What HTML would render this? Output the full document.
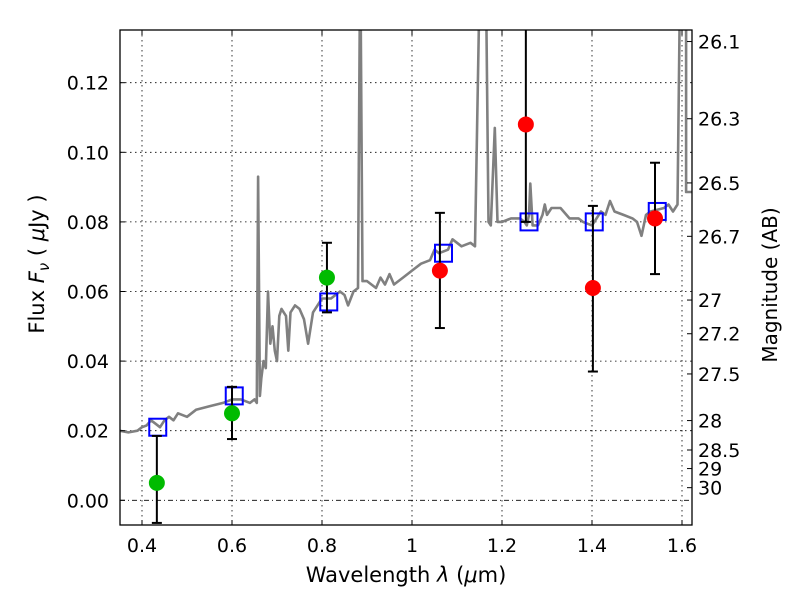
<!DOCTYPE html>
<html><head><meta charset="utf-8"><style>
html,body{margin:0;padding:0;background:#fff;overflow:hidden;width:800px;height:600px}
svg{display:block;font-family:"DejaVu Sans","Liberation Sans",sans-serif}
</style></head><body>
<svg id="chart" width="800" height="600"></svg>
<script>
const xTicks=[0.4,0.6,0.8,1.0,1.2,1.4,1.6];
const xTickLabels=["0.4","0.6","0.8","1","1.2","1.4","1.6"];
const yTicks=[0,0.02,0.04,0.06,0.08,0.10,0.12];
const yTickLabels=["0.00","0.02","0.04","0.06","0.08","0.10","0.12"];
const magTicks=[26.1,26.3,26.5,26.7,27,27.2,27.5,28,28.5,29,30];
const magLabels=["26.1","26.3","26.5","26.7","27","27.2","27.5","28","28.5","29","30"];
const specWave=[0.35,0.37,0.39,0.40,0.41,0.42,0.43,0.44,0.45,0.46,0.47,0.48,0.50,0.52,0.55,0.58,0.60,0.62,0.64,0.65,0.655,0.658,0.662,0.665,0.67,0.675,0.68,0.685,0.69,0.695,0.70,0.705,0.71,0.72,0.725,0.73,0.74,0.75,0.76,0.769,0.78,0.80,0.82,0.84,0.85,0.858,0.87,0.88,0.884,0.886,0.89,0.895,0.90,0.92,0.93,0.94,0.95,0.96,0.98,1.0,1.02,1.04,1.05,1.06,1.08,1.09,1.10,1.11,1.13,1.14,1.149,1.155,1.165,1.17,1.175,1.184,1.19,1.20,1.22,1.24,1.25,1.255,1.26,1.263,1.268,1.28,1.29,1.295,1.30,1.31,1.33,1.35,1.37,1.38,1.40,1.42,1.43,1.44,1.45,1.47,1.49,1.50,1.51,1.52,1.53,1.56,1.57,1.58,1.59,1.595,1.603,1.609,1.609,1.63];
const specFlux=[0.020,0.0195,0.020,0.021,0.0215,0.023,0.022,0.021,0.023,0.024,0.023,0.025,0.024,0.026,0.027,0.028,0.029,0.029,0.028,0.029,0.028,0.093,0.030,0.035,0.040,0.038,0.060,0.045,0.050,0.043,0.040,0.053,0.055,0.053,0.043,0.054,0.056,0.055,0.052,0.045,0.054,0.058,0.058,0.060,0.059,0.056,0.060,0.061,0.14,0.14,0.063,0.063,0.063,0.061,0.064,0.062,0.065,0.062,0.064,0.066,0.068,0.069,0.072,0.071,0.072,0.075,0.074,0.073,0.074,0.073,0.14,0.14,0.14,0.080,0.079,0.107,0.080,0.080,0.081,0.081,0.080,0.079,0.082,0.091,0.079,0.079,0.082,0.085,0.082,0.084,0.084,0.081,0.081,0.080,0.079,0.083,0.082,0.086,0.083,0.082,0.081,0.080,0.076,0.082,0.083,0.084,0.085,0.083,0.085,0.14,0.14,0.14,0.0886,0.0886];
const greenWave=[0.433,0.600,0.811];
const greenFlux=[0.005,0.025,0.064];
const greenLo=[-0.0065,0.0176,0.054];
const greenHi=[0.0185,0.0326,0.074];
const redWave=[1.062,1.253,1.402,1.540];
const redFlux=[0.066,0.108,0.061,0.081];
const redLo=[0.0495,0.080,0.037,0.065];
const redHi=[0.0826,0.136,0.0846,0.097];
const modelWave=[0.435,0.605,0.815,1.07,1.26,1.405,1.545];
const modelFlux=[0.021,0.030,0.057,0.071,0.080,0.080,0.083];

const L=120,R=692,T=30,B=525;
const xs=v=>142+(v-0.4)*450;
const ys=v=>500.3-v*3480;
const svg=document.getElementById('chart');
const NS='http://www.w3.org/2000/svg';
function mk(tag,attrs,parent){const e=document.createElementNS(NS,tag);for(const k in attrs)e.setAttribute(k,attrs[k]);(parent||svg).appendChild(e);return e;}
const defs=mk('defs',{});
const cp=mk('clipPath',{id:'clip'},defs);
mk('rect',{x:L,y:T,width:R-L,height:B-T},cp);

const grid=mk('g',{});


xTicks.forEach(v=>{mk('line',{x1:xs(v),x2:xs(v),y1:T,y2:B,stroke:'#000','stroke-width':0.8,'stroke-dasharray':'1.5,3.5'},grid);});
yTicks.forEach(v=>{mk('line',{x1:L,x2:R,y1:ys(v),y2:ys(v),stroke:'#000','stroke-width':0.8,'stroke-dasharray':v===0?'5,3,1,3':'1.5,3.5'},grid);});

const g=mk('g',{'clip-path':'url(#clip)'});
let d='';
specWave.forEach((w,i)=>{d+=(i?'L':'M')+xs(w).toFixed(1)+','+ys(specFlux[i]).toFixed(1);});
const sp=mk('path',{d:d,fill:'none',stroke:'#808080','stroke-width':2.6,'stroke-linejoin':'round'},g);



modelWave.forEach((w,i)=>{
  const r=mk('rect',{x:xs(w)-8.5,y:ys(modelFlux[i])-8.5,width:17,height:17,fill:'none',stroke:'#0000ff','stroke-width':2},g);
  
  
});
function pts(W,F,Lo,Hi,col,name){
  W.forEach((w,i)=>{
    const x=xs(w);
    const eb=mk('g',{},g);
    
    
    mk('line',{x1:x,x2:x,y1:ys(Lo[i]),y2:ys(Hi[i]),stroke:'#000','stroke-width':2},eb);
    mk('line',{x1:x-5,x2:x+5,y1:ys(Lo[i]),y2:ys(Lo[i]),stroke:'#000','stroke-width':2},eb);
    mk('line',{x1:x-5,x2:x+5,y1:ys(Hi[i]),y2:ys(Hi[i]),stroke:'#000','stroke-width':2},eb);
  });
  W.forEach((w,i)=>{
    const c=mk('circle',{cx:xs(w),cy:ys(F[i]),r:8,fill:col},g);
    
    
  });
}
pts(greenWave,greenFlux,greenLo,greenHi,'#00bb00','optical');
pts(redWave,redFlux,redLo,redHi,'#ff0000','nir');

const fr=mk('rect',{x:L,y:T,width:R-L,height:B-T,fill:'none',stroke:'#000','stroke-width':1.3});


xTicks.forEach((v,i)=>{
  const x=xs(v);
  mk('line',{x1:x,x2:x,y1:B,y2:B-5,stroke:'#000'});
  mk('line',{x1:x,x2:x,y1:T,y2:T+5,stroke:'#000'});
  const t=mk('text',{x:x,y:B+27,'font-size':19,'text-anchor':'middle'});
  t.textContent=xTickLabels[i];
  
  
});
yTicks.forEach((v,i)=>{
  const y=ys(v);
  mk('line',{x1:L,x2:L+5,y1:y,y2:y,stroke:'#000'});
  const t=mk('text',{x:L-11,y:y+7,'font-size':19,'text-anchor':'end'});
  t.textContent=yTickLabels[i];
  
  
});
magTicks.forEach((m,i)=>{
  const y=ys(Math.pow(10,(23.9-m)/2.5));
  mk('line',{x1:R,x2:R-5,y1:y,y2:y,stroke:'#000'});
  const t=mk('text',{x:R+6,y:y+7,'font-size':19});
  t.textContent=magLabels[i];
  
  
});
const xt=mk('text',{x:406,y:582,'font-size':21,'text-anchor':'middle'});
xt.setAttribute('xml:space','preserve');
xt.innerHTML='Wavelength  <tspan font-style="italic">λ</tspan> (<tspan font-style="italic">μ</tspan>m)';


const yt=mk('text',{transform:'translate(44,264) rotate(-90)','font-size':21,'text-anchor':'middle'});
yt.setAttribute('xml:space','preserve');
yt.innerHTML='Flux  <tspan font-style="italic">F</tspan><tspan font-style="italic" font-size="15" dy="5">ν</tspan><tspan dy="-5">  (  </tspan><tspan font-style="italic">μ</tspan>Jy )';


const rt=mk('text',{transform:'translate(777,285) rotate(-90)','font-size':20,'text-anchor':'middle'});
rt.textContent='Magnitude (AB)';


</script>
</body></html>
